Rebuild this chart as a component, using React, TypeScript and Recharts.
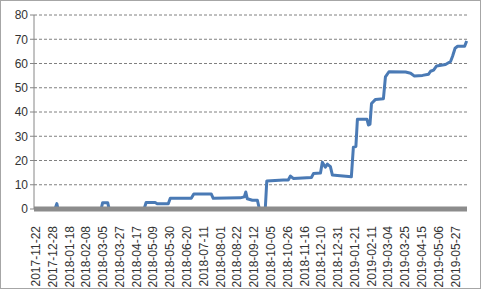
import React from "react";
import { LineChart, Line, XAxis, YAxis, CartesianGrid } from "recharts";

// tick labels on the category axis, one per 0..25 index
const tickLabels = [
  "2017-11-22", "2017-12-28", "2018-01-18", "2018-02-08", "2018-03-05",
  "2018-03-27", "2018-04-17", "2018-05-09", "2018-05-30", "2018-06-20",
  "2018-07-11", "2018-08-01", "2018-08-22", "2018-09-12", "2018-10-05",
  "2018-10-26", "2018-11-16", "2018-12-10", "2018-12-31", "2019-01-21",
  "2019-02-11", "2019-03-04", "2019-03-25", "2019-04-15", "2019-05-06",
  "2019-05-27",
];

// position of each point, measured in label intervals
const pointPos = [
  0, 1.13, 1.24, 1.31, 3.88, 3.97, 4.27, 4.36, 6.44, 6.56,
  7.1, 7.22, 7.88, 8.0, 9.25, 9.4, 10.44, 10.56, 12.17, 12.41,
  12.5, 12.59, 12.89, 13.19, 13.31, 13.66, 13.75, 14.74, 15.03, 15.16,
  15.33, 16.41, 16.53, 16.95, 17.06, 17.24, 17.36, 17.54, 17.66, 17.96,
  18.79, 18.91, 19.06, 19.15, 19.72, 19.81, 19.9, 19.99, 20.23, 20.7,
  20.82, 21.03, 22.02, 22.32, 22.55, 23.03, 23.39, 23.51, 23.69, 23.87,
  24.4, 24.7, 24.82, 24.97, 25.12, 25.54, 25.66,
];

const pointValue = [
  0, 0, 2.2, 0, 0, 2.6, 2.6, 0, 0, 2.7,
  2.7, 2.2, 2.2, 4.4, 4.4, 6.2, 6.2, 4.4, 4.6, 5,
  7, 4.2, 3.6, 3.6, 0, 0, 11.5, 12, 12, 13.6,
  12.6, 13, 14.6, 14.8, 19.3, 17.2, 18.5, 17.5, 14, 13.8,
  13.3, 25.5, 25.8, 37, 37, 34.6, 35, 43.5, 45.2, 45.5,
  54.5, 56.6, 56.5, 56, 54.8, 55.1, 55.6, 56.8, 57.3, 59,
  59.6, 60.8, 63, 66.3, 67.1, 67.1, 69.3,
];

const yTicks = [0, 10, 20, 30, 40, 50, 60, 70, 80];

const data = pointPos.map((p, i) => ({ pos: p, value: pointValue[i] }));

const DateTick = (props: any) => {
  const { x, y, payload } = props;
  return (
    <g transform={`translate(${x},${y})`}>
      <text
        x={-9}
        y={0}
        dy={4}
        transform="rotate(-90)"
        textAnchor="end"
        fontSize={12}
        fill="#333"
        fontFamily="'Liberation Sans', Arial, sans-serif"
      >
        {tickLabels[payload.value]}
      </text>
    </g>
  );
};

export default function App() {
  return (
    <div
      style={{
        position: "absolute",
        left: 0,
        top: 0,
        width: 481,
        height: 289,
        boxSizing: "border-box",
        border: "1px solid #a6a6a6",
        background: "#fff",
      }}
    >
      <LineChart
        width={479}
        height={287}
        data={data}
        margin={{ top: 14, right: 13, left: 0, bottom: 0 }}
      >
        <CartesianGrid
          vertical={false}
          stroke="#808080"
          strokeDasharray="3 2"
        />
        <XAxis
          dataKey="pos"
          type="number"
          domain={[-0.12, 25.68]}
          ticks={tickLabels.map((_, i) => i)}
          interval={0}
          height={79}
          tick={<DateTick />}
          tickLine={false}
          axisLine={{ stroke: "#8c8c8c", strokeWidth: 5 }}
        />
        <YAxis
          domain={[0, 80]}
          ticks={yTicks}
          width={33}
          tickSize={4}
          tickLine={{ stroke: "#868686" }}
          axisLine={{ stroke: "#868686" }}
          tick={{
            fontSize: 12,
            fill: "#333",
            fontFamily: "'Liberation Sans', Arial, sans-serif",
          }}
        />
        <Line
          type="linear"
          dataKey="value"
          stroke="#4A7AB5"
          strokeWidth={3}
          dot={false}
          strokeLinejoin="round"
          isAnimationActive={false}
        />
      </LineChart>
    </div>
  );
}
